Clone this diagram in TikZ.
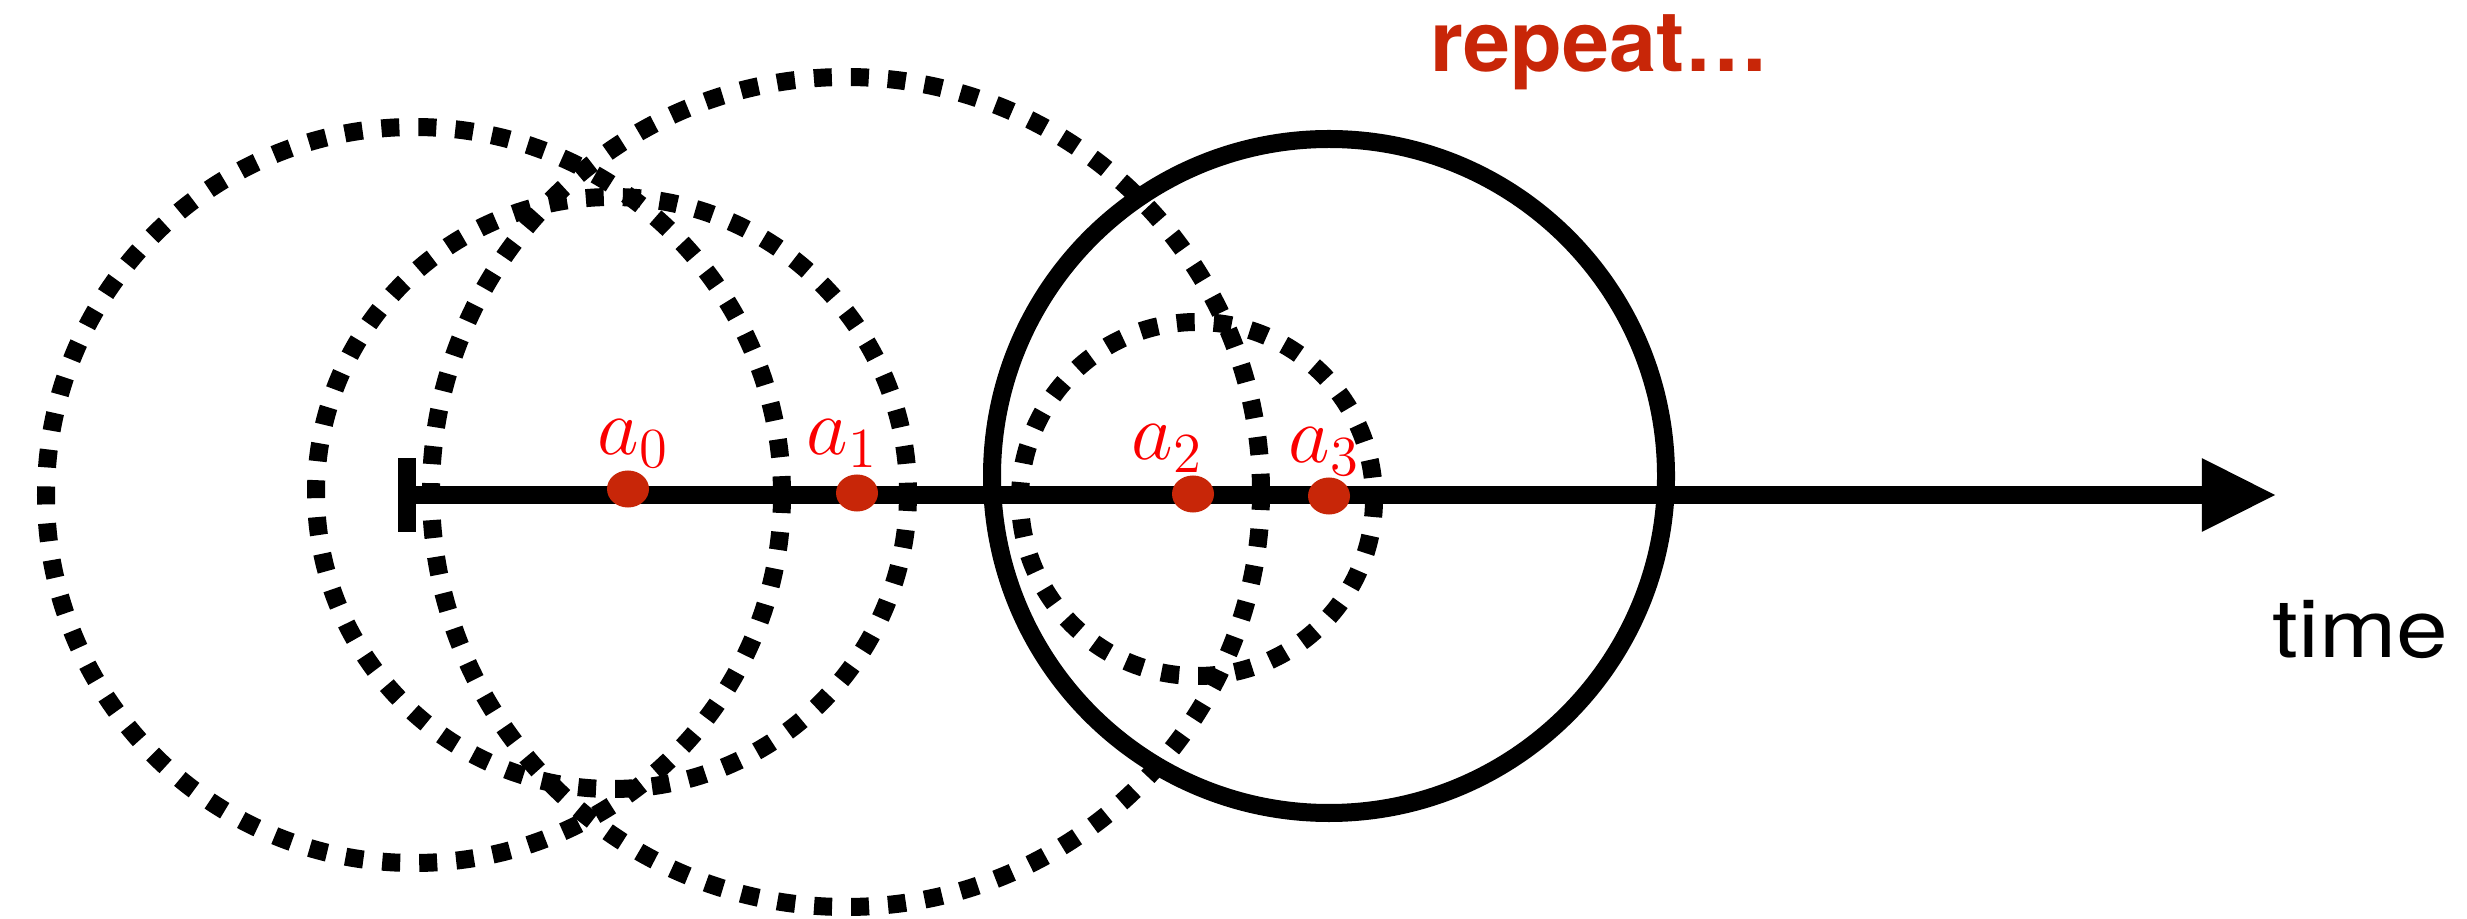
\RequirePackage{fix-cm}
\documentclass[tikz,border=0pt]{standalone}
\usepackage{fontspec}
\setsansfont{TeX Gyre Heros}
\usepackage{tikz}
\usetikzlibrary{positioning,shapes,arrows,arrows.meta,calc}
\definecolor{dotred}{RGB}{200,38,8}
\definecolor{labred}{RGB}{250,0,0}

\begin{document}
\begin{tikzpicture}[x=0.01cm, y=-0.01cm,
    ring/.style={line width=5.12pt, dash pattern=on 5.12pt off 5.4pt},
    solidring/.style={line width=5.12pt},
    timeaxis/.style={line width=5.12pt, {Bar[width=21pt]}-{Triangle[length=20.8pt, width=21pt, line width=0pt]}},
    dot/.style={ellipse, fill=dotred, minimum width=0.42cm, minimum height=0.37cm, inner sep=0pt},
    lbl/.style={text=labred, inner sep=0pt, anchor=base west, font=\fontsize{23}{27}\selectfont}]
    \useasboundingbox (0,0) rectangle (2467,919);

    % dotted neighbourhoods
    \draw[ring] (414,495) circle[radius=368];
    \draw[ring] (612,493) circle[radius=296];
    \draw[ring] (846,492) circle[radius=415];
    \draw[ring] (1197,499) circle[radius=177];
    \draw[solidring] (1329,476) circle[radius=337];

    % time axis
    \coordinate (start) at (398,495);
    \coordinate (tip) at (2275,495);
    \draw[timeaxis] (start) -- (tip);

    \node[dot] (a0) at (628,489) {};
    \node[dot] (a1) at (857,493) {};
    \node[dot] (a2) at (1193,494) {};
    \node[dot] (a3) at (1329,496) {};

    \node[lbl] (l0) at (597,455) {$a_0$};
    \node[lbl] (l1) at (806,455) {$a_1$};
    \node[lbl] (l2) at (1131,460) {$a_2$};
    \node[lbl] (l3) at (1288,463) {$a_3$};

    \node[anchor=base west, inner sep=0pt, text=dotred, font=\sffamily\bfseries\fontsize{24}{28}\selectfont] (rep) at (1430,72) {repeat…};
    \node[anchor=base west, inner sep=0pt, xscale=1.15, font=\sffamily\fontsize{23}{27}\selectfont] (time) at (2272,657) {time};
\end{tikzpicture}
\end{document}
